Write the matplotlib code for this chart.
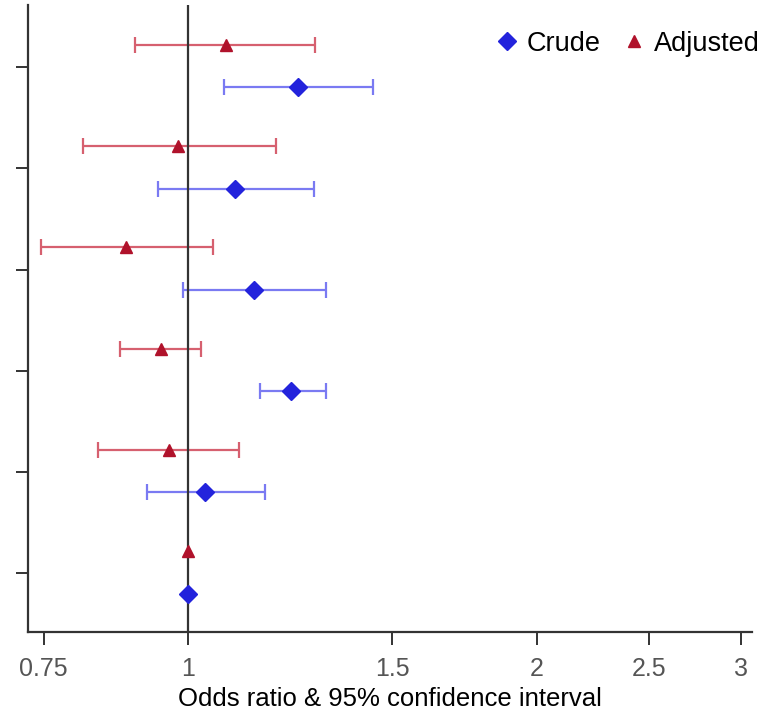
import matplotlib.pyplot as plt
from matplotlib.ticker import FixedLocator, NullLocator
import numpy as np

plt.rcParams['font.family'] = ['Liberation Sans', 'DejaVu Sans']

# rows, bottom to top (reference row first)
rows = [1, 2, 3, 4, 5, 6]

crude_or = [1.0, 1.033, 1.228, 1.140, 1.098, 1.244]
crude_lo = [1.0, 0.921, 1.153, 0.990, 0.941, 1.074]
crude_hi = [1.0, 1.165, 1.316, 1.316, 1.285, 1.444]

adj_or = [1.0, 0.962, 0.947, 0.883, 0.980, 1.077]
adj_lo = [1.0, 0.836, 0.874, 0.746, 0.811, 0.899]
adj_hi = [1.0, 1.106, 1.026, 1.050, 1.191, 1.286]

xticks = [0.75, 1, 1.5, 2, 2.5, 3]
xtick_labels = ["0.75", "1", "1.5", "2", "2.5", "3"]

blue = "#2323DC"
blue_light = "#7A7AF2"
red = "#B0122B"
red_light = "#D6606F"

fig = plt.figure(figsize=(7.75, 7.21), dpi=100)
ax = fig.add_axes([0.036, 0.123, 0.934, 0.870])

y = np.array(rows, dtype=float)
y_crude = y - 0.2
y_adj = y + 0.22

def draw(ys, est, lo, hi, col, lcol, marker, ms, label):
    est = np.array(est); lo = np.array(lo); hi = np.array(hi)
    has_ci = hi > lo
    ax.errorbar(est[has_ci], ys[has_ci],
                xerr=[est[has_ci] - lo[has_ci], hi[has_ci] - est[has_ci]],
                fmt='none', ecolor=lcol, elinewidth=1.6, capsize=6,
                capthick=1.6, zorder=2)
    ax.plot(est, ys, linestyle='none', marker=marker, color=col,
            markersize=ms, zorder=4, label=label)

draw(y_crude, crude_or, crude_lo, crude_hi, blue, blue_light, 'D', 9, "Crude")
draw(y_adj, adj_or, adj_lo, adj_hi, red, red_light, '^', 9, "Adjusted")

ax.axvline(1, color="#333333", linewidth=1.6, zorder=3)

ax.set_xscale('log')
ax.set_xlim(0.727, 3.067)
ax.set_ylim(0.417, 6.613)
ax.xaxis.set_major_locator(FixedLocator(xticks))
ax.xaxis.set_minor_locator(NullLocator())
ax.set_xticklabels(xtick_labels)
ax.set_yticks(rows)
ax.set_yticklabels([])

for s in ['top', 'right']:
    ax.spines[s].set_visible(False)
for s in ['left', 'bottom']:
    ax.spines[s].set_color("#333333")
    ax.spines[s].set_linewidth(1.6)

ax.tick_params(axis='x', length=9, width=1.4, color="#333333",
               labelcolor="#555555", labelsize=18, pad=9)
ax.tick_params(axis='y', length=9, width=1.4, color="#333333")

ax.set_xlabel("Odds ratio & 95% confidence interval", fontsize=18.5,
              color="black", labelpad=4)

ax.legend(loc='center right', bbox_to_anchor=(1.011, 0.938), ncol=2,
          frameon=False, fontsize=19.5, handletextpad=0.25, columnspacing=0.7,
          handlelength=1.0, borderaxespad=0, borderpad=0)

fig.savefig("out.png", dpi=100)
